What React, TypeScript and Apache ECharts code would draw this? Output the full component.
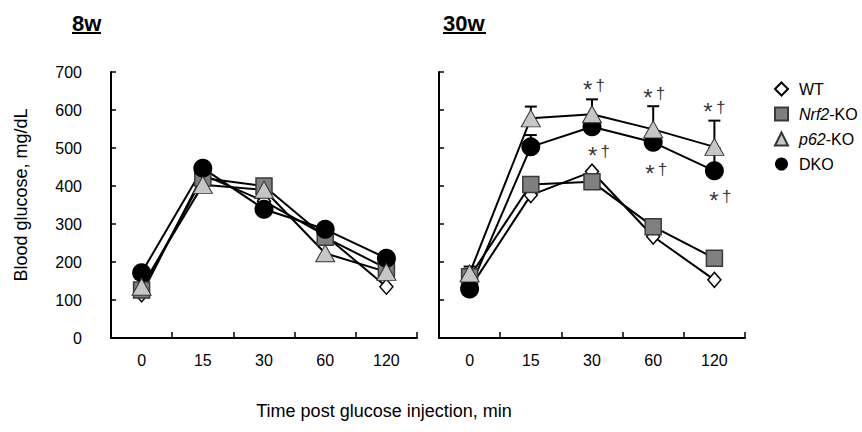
import React, { useEffect, useRef } from "react";
import * as echarts from "echarts";

const categories = ["0", "15", "30", "60", "120"];
const seriesNames = ["WT", "Nrf2-KO", "p62-KO", "DKO"];

// 8 weeks
const wt8 = [115, 430, 360, 270, 135];
const nrf8 = [126, 421, 400, 265, 183];
const p62w8 = [135, 403, 390, 223, 174];
const dko8 = [172, 447, 339, 286, 210];

// 30 weeks
const wt30 = [130, 376, 438, 267, 153];
const nrf30 = [161, 404, 411, 293, 210];
const p62w30 = [170, 578, 589, 549, 503];
const dko30 = [129, 503, 556, 515, 440];

// error bars (30w): [category index, mean, mean + SE]
const errP62 = [
  [0, 170, 188],
  [1, 578, 609],
  [2, 589, 628],
  [3, 549, 610],
  [4, 503, 572],
];
const errDko = [
  [1, 503, 534],
  [2, 556, 578],
  [4, 440, 500],
];

// significance marks (30w): [category index, value]
const sigMarks = [
  [2, 664],
  [3, 644],
  [4, 606],
  [2, 492],
  [3, 443],
  [4, 372],
];

const FONT = "'Liberation Sans', Arial, Helvetica, sans-serif";

const markerStyles: Record<string, any> = {
  WT: {
    symbol: "diamond",
    symbolSize: [13, 15],
    itemStyle: { color: "#ffffff", borderColor: "#000000", borderWidth: 1.5 },
  },
  "Nrf2-KO": {
    symbol: "rect",
    symbolSize: 16,
    itemStyle: { color: "#808080", borderColor: "#3a3a3a", borderWidth: 1.5 },
  },
  "p62-KO": {
    symbol: "triangle",
    symbolSize: [19, 17],
    itemStyle: { color: "#c6c6c6", borderColor: "#333333", borderWidth: 1 },
  },
  DKO: {
    symbol: "circle",
    symbolSize: 19,
    itemStyle: { color: "#000000", borderColor: "#000000", borderWidth: 0 },
  },
};

function lineSeries(name: string, data: number[], idx: number) {
  const st = markerStyles[name];
  return {
    type: "line",
    name,
    data,
    xAxisIndex: idx,
    yAxisIndex: idx,
    symbol: st.symbol,
    symbolSize: st.symbolSize,
    showAllSymbol: true,
    itemStyle: st.itemStyle,
    lineStyle: { color: "#000000", width: 2 },
    z: 3,
  };
}

function errorSeries(data: number[][]) {
  return {
    type: "custom",
    xAxisIndex: 1,
    yAxisIndex: 1,
    data,
    encode: { x: 0, y: [1, 2] },
    z: 2,
    silent: true,
    renderItem: (_params: any, api: any) => {
      const x = api.value(0);
      const lo = api.coord([x, api.value(1)]);
      const hi = api.coord([x, api.value(2)]);
      const w = 6;
      return {
        type: "group",
        children: [
          {
            type: "line",
            shape: { x1: lo[0], y1: lo[1], x2: hi[0], y2: hi[1] },
            style: { stroke: "#000", lineWidth: 2 },
          },
          {
            type: "line",
            shape: { x1: hi[0] - w, y1: hi[1], x2: hi[0] + w, y2: hi[1] },
            style: { stroke: "#000", lineWidth: 2 },
          },
        ],
      };
    },
  };
}

const sigOffsets = [
  [2, 0],
  [1, 0],
  [0, 0],
  [7, 0],
  [3, 0],
  [6, 0],
];

const legendIcons: Record<string, string> = {
  WT: "diamond",
  "Nrf2-KO": "rect",
  "p62-KO": "triangle",
  DKO: "circle",
};

export default function App() {
  const ref = useRef<HTMLDivElement>(null);

  useEffect(() => {
    if (!ref.current) return;
    const chart = echarts.init(ref.current, null, { renderer: "svg" });

    const yAxisBase = (idx: number) => ({
      type: "value",
      gridIndex: idx,
      min: 0,
      max: 700,
      interval: 100,
      axisLine: { show: true, lineStyle: { color: "#000", width: 2 } },
      axisTick: { show: true, inside: true, length: 5, lineStyle: { color: "#000", width: 1.5 } },
      splitLine: { show: false },
      axisLabel: {
        show: idx === 0,
        fontSize: 16,
        color: "#000",
        fontFamily: FONT,
        margin: 29,
      },
    });

    const xAxisBase = (idx: number) => ({
      type: "category",
      gridIndex: idx,
      data: categories,
      boundaryGap: true,
      axisLine: { show: true, lineStyle: { color: "#000", width: 2 } },
      axisTick: { show: true, inside: true, length: 6, lineStyle: { color: "#000", width: 1.5 } },
      splitLine: { show: false },
      axisLabel: { fontSize: 16, color: "#000", fontFamily: FONT, margin: 14 },
    });

    const option: any = {
      animation: false,
      backgroundColor: "#ffffff",
      textStyle: { fontFamily: FONT },
      grid: [
        { left: 111, top: 72, width: 306, height: 266 },
        { left: 439, top: 72, width: 306, height: 266 },
      ],
      xAxis: [xAxisBase(0), xAxisBase(1)],
      yAxis: [yAxisBase(0), yAxisBase(1)],
      legend: {
        data: seriesNames.map((n) => ({ name: n, icon: legendIcons[n] })),
        orient: "vertical",
        left: 769,
        top: 76,
        itemWidth: 13,
        itemHeight: 13,
        itemGap: 9,
        selectedMode: false,
        textStyle: {
          fontSize: 16,
          color: "#000",
          fontFamily: FONT,
          padding: [0, 0, 0, 6],
          rich: {
            i: { fontSize: 16, fontStyle: "italic", color: "#000", fontFamily: FONT },
            n: { fontSize: 16, color: "#000", fontFamily: FONT },
          },
        },
        formatter: (name: string) => {
          if (name === "Nrf2-KO") return "{i|Nrf2}{n|-KO}";
          if (name === "p62-KO") return "{i|p62}{n|-KO}";
          return name;
        },
      },
      graphic: [
        {
          type: "text",
          left: 72,
          top: 12,
          style: { text: "8w", fontSize: 22, fontWeight: "bold", fill: "#000", fontFamily: FONT },
        },
        {
          type: "line",
          shape: { x1: 72, y1: 33, x2: 101, y2: 33 },
          style: { stroke: "#000", lineWidth: 2 },
        },
        {
          type: "text",
          left: 443,
          top: 12,
          style: { text: "30w", fontSize: 22, fontWeight: "bold", fill: "#000", fontFamily: FONT },
        },
        {
          type: "line",
          shape: { x1: 443, y1: 33, x2: 486, y2: 33 },
          style: { stroke: "#000", lineWidth: 2 },
        },
        {
          type: "text",
          x: 21,
          y: 195,
          rotation: Math.PI / 2,
          style: {
            text: "Blood glucose, mg/dL",
            fontSize: 18,
            fill: "#000",
            fontFamily: FONT,
            align: "center",
            verticalAlign: "middle",
          },
        },
        {
          type: "text",
          x: 384,
          y: 411,
          style: {
            text: "Time post glucose injection, min",
            fontSize: 18,
            fill: "#000",
            fontFamily: FONT,
            align: "center",
            verticalAlign: "middle",
          },
        },
      ],
      series: [
        lineSeries("WT", wt8, 0),
        lineSeries("Nrf2-KO", nrf8, 0),
        lineSeries("DKO", dko8, 0),
        lineSeries("p62-KO", p62w8, 0),
        errorSeries(errP62),
        errorSeries(errDko),
        lineSeries("WT", wt30, 1),
        lineSeries("Nrf2-KO", nrf30, 1),
        lineSeries("DKO", dko30, 1),
        lineSeries("p62-KO", p62w30, 1),
        {
          type: "scatter",
          name: "sig",
          xAxisIndex: 1,
          yAxisIndex: 1,
          symbolSize: 0,
          silent: true,
          z: 5,
          itemStyle: { color: "#000" },
          data: sigMarks.map((d, i) => ({
            value: d,
            label: { offset: sigOffsets[i] },
          })),
          label: {
            show: true,
            position: "inside",
            color: "#000",
            textBorderWidth: 0,
            formatter: () => "{s|*} {d|†}",
            rich: {
              s: {
                fontSize: 24,
                color: "#000",
                fontFamily: FONT,
                padding: [8, 0, 0, 0],
                textBorderWidth: 0,
              },
              d: { fontSize: 17, color: "#000", fontFamily: FONT, textBorderWidth: 0 },
            },
          },
        },
      ],
    };

    chart.setOption(option);
    return () => chart.dispose();
  }, []);

  return (
    <div
      ref={ref}
      style={{ position: "fixed", left: 0, top: 0, width: 862, height: 432, background: "#fff" }}
    />
  );
}
